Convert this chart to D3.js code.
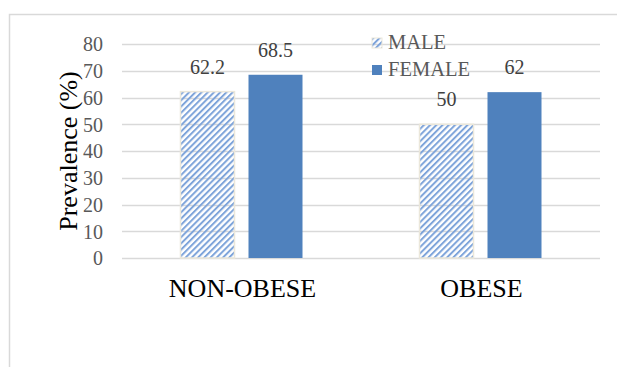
<!DOCTYPE html>
<html>
<head>
<meta charset="utf-8">
<script src="https://cdn.jsdelivr.net/npm/d3@7"></script>
<style>
  html, body { margin: 0; padding: 0; background: #fff; }
  svg { display: block; }
</style>
</head>
<body>
<svg id="chart" width="617" height="367"></svg>
<script>
// Prevalence by weight group and sex
const categories = ["NON-OBESE", "OBESE"];
const seriesNames = ["MALE", "FEMALE"];
const maleValues = [62.2, 50];
const femaleValues = [68.5, 62];
const yTicks = [0, 10, 20, 30, 40, 50, 60, 70, 80];

const FONT = "Liberation Serif";
const svg = d3.select("#chart");

// Outer chart frame
svg.append("rect")
  .attr("x", 9.5).attr("y", 14.5)
  .attr("width", 640).attr("height", 400)
  .attr("fill", "#fff").attr("stroke", "#d9d9d9").attr("stroke-width", 1.5);

// Hatch pattern for the male series
const defs = svg.append("defs");
const pat = defs.append("pattern")
  .attr("id", "hatch")
  .attr("patternUnits", "userSpaceOnUse")
  .attr("width", 4.4).attr("height", 4.4)
  .attr("patternTransform", "rotate(45)");
pat.append("rect").attr("x", 0).attr("width", 2).attr("height", 4.4).attr("fill", "#7ea4da");

const plot = { left: 122, right: 600, top: 44, bottom: 258 };

const x0 = d3.scaleBand().domain(categories)
  .range([plot.left, plot.right]).paddingInner(0).paddingOuter(0);
const y = d3.scaleLinear().domain([0, 80]).range([plot.bottom, plot.top]);

// Gridlines
svg.append("g").selectAll("line").data(yTicks).join("line")
  .attr("x1", plot.left).attr("x2", plot.right)
  .attr("y1", d => Math.round(y(d)) + 0.5).attr("y2", d => Math.round(y(d)) + 0.5)
  .attr("stroke", "#d9d9d9").attr("stroke-width", 1.5);

// Y axis tick labels
const yAxis = d3.axisLeft(y).tickValues(yTicks).tickSize(0).tickPadding(0);
const yg = svg.append("g").attr("transform", `translate(${plot.left - 19},0)`).call(yAxis);
yg.attr("font-family", FONT).attr("font-size", 20);
yg.select(".domain").remove();
yg.selectAll("text").attr("fill", "#595959").attr("dy", "0.34em");

// Y axis title
svg.append("text")
  .attr("transform", `translate(77,${(plot.top + plot.bottom) / 2}) rotate(-90)`)
  .attr("text-anchor", "middle")
  .attr("font-family", FONT).attr("font-size", 26).attr("fill", "#000")
  .text("Prevalence (%)");

// Bars
const barW = 54, gap = 14;
const data = categories.map((c, i) => ({ cat: c, vals: [maleValues[i], femaleValues[i]] }));
const groupStart = c => x0(c) + (x0.bandwidth() - (2 * barW + gap)) / 2;
const x1 = d3.scaleOrdinal().domain(seriesNames).range([0, barW + gap]);

const fills = { MALE: "url(#hatch)", FEMALE: "#4f81bd" };
const strokes = { MALE: "#ebe7da", FEMALE: "none" };

data.forEach(d => {
  seriesNames.forEach((s, j) => {
    const v = d.vals[j];
    const bx = groupStart(d.cat) + x1(s);
    svg.append("rect")
      .attr("x", bx).attr("y", y(v))
      .attr("width", barW).attr("height", y(0) - y(v))
      .attr("fill", fills[s])
      .attr("stroke", strokes[s]).attr("stroke-width", 1.5);
    svg.append("text")
      .attr("x", bx + barW / 2).attr("y", y(v) - 18)
      .attr("text-anchor", "middle")
      .attr("font-family", FONT).attr("font-size", 20).attr("fill", "#404040")
      .text(v);
  });
});

// Category labels
svg.append("g").selectAll("text").data(categories).join("text")
  .attr("x", d => x0(d) + x0.bandwidth() / 2 + 1)
  .attr("y", 297)
  .attr("text-anchor", "middle")
  .attr("font-family", FONT).attr("font-size", 26).attr("fill", "#000")
  .text(d => d);

// Legend
const legend = svg.append("g").attr("transform", "translate(372,38)");
seriesNames.forEach((s, i) => {
  const g = legend.append("g").attr("transform", `translate(0,${i * 27})`);
  g.append("rect").attr("x", 0).attr("y", 0).attr("width", 10).attr("height", 10)
    .attr("fill", fills[s]).attr("stroke", strokes[s]).attr("stroke-width", 1);
  g.append("text").attr("x", 16).attr("y", 11)
    .attr("font-family", FONT).attr("font-size", 20.5).attr("fill", "#595959")
    .text(s);
});
</script>
</body>
</html>
